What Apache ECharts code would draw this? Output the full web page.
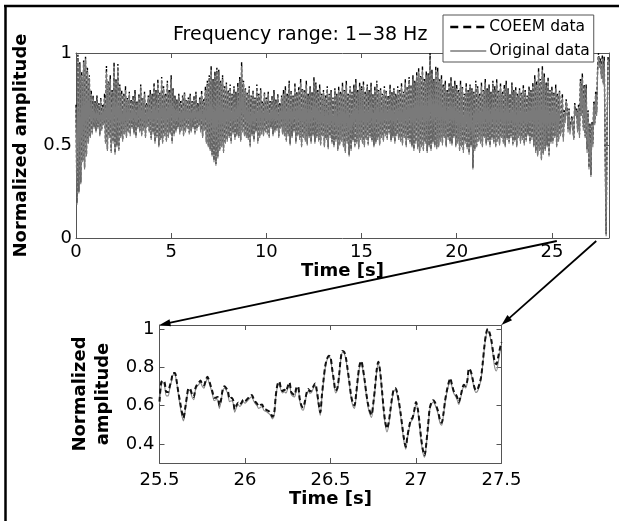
<!DOCTYPE html>
<html><head><meta charset="utf-8">
<script src="https://cdn.jsdelivr.net/npm/echarts@6/dist/echarts.min.js"></script>
<style>html,body{margin:0;padding:0;background:#fff}#c{width:619px;height:521px}</style>
</head><body><div id="c"></div>
<script>
// ---- Top panel: 0–28 s, one reading every 0.05 s (values in hundredths) ----
const topStart = 0, topStep = 0.05;
const topCoeem = [
72,19,99,25,95,30,90,42,96,38,98,45,92,52,88,55,80,57,77,60,
74,58,77,60,73,56,76,59,72,62,78,52,93,48,85,55,88,47,80,52,
95,46,86,50,94,48,83,55,80,53,78,57,82,55,76,58,79,56,75,60,
77,57,80,55,74,60,78,58,83,56,76,59,79,55,73,61,77,58,80,54,
78,57,84,52,80,55,86,50,79,54,87,52,82,56,78,53,85,55,80,57,
88,52,81,56,77,58,75,60,78,57,74,59,77,56,79,58,75,60,76,57,
78,58,74,60,77,57,79,59,73,61,76,58,80,55,75,59,82,52,85,50,
88,48,93,45,86,42,90,40,92,44,91,48,85,50,88,47,82,52,84,53,
80,55,83,52,78,57,82,54,79,56,84,55,87,53,95,58,85,56,81,55,
79,54,82,50,77,56,80,53,76,58,83,52,78,55,81,57,74,56,79,58,
76,57,79,55,74,60,77,56,80,58,75,59,78,55,73,60,77,57,80,56,
82,53,78,56,85,51,80,55,77,58,84,52,79,56,82,54,86,50,81,55,
80,53,85,51,78,55,82,52,79,56,87,52,84,55,80,53,83,51,78,56,
80,50,77,54,82,49,78,55,80,52,76,50,81,53,78,48,82,51,79,53,
84,50,80,47,85,52,78,45,82,48,79,53,83,50,86,52,80,49,84,54,
82,52,85,50,79,54,83,51,80,55,84,53,78,50,82,52,85,54,80,51,
81,55,78,53,82,56,80,54,77,57,83,53,79,55,81,52,78,56,82,54,
80,53,84,51,79,55,86,50,82,54,87,52,83,50,88,48,85,52,90,49,
92,47,88,50,93,48,86,52,90,47,89,50,100,48,91,52,86,50,93,49,
92,50,86,53,88,51,83,55,85,50,80,54,84,52,87,51,82,55,85,50,
83,52,80,48,85,50,82,47,78,52,84,49,80,46,83,50,81,38,79,48,
85,50,82,53,78,52,84,50,80,55,86,51,81,53,83,50,79,54,85,52,
82,50,86,53,80,51,84,55,79,52,83,50,85,54,81,52,78,55,84,51,
80,53,82,50,78,55,81,52,79,54,83,51,80,53,77,56,82,52,80,54,
84,50,88,47,85,45,92,48,86,43,93,46,89,48,84,50,87,45,80,52,
82,52,79,55,83,50,78,53,80,56,62,78,54,69,64,75,70,59,70,58,
62,66,60,54,73,67,70,59,72,56,86,67,89,60,83,55,83,48,69,38,
62,34,63,51,74,62,79,68,91,100,93,97,88,99,84,98,45,2,60,98,
95];
const topOrig = [
71,18,97,24,94,29,88,41,95,37,97,44,90,51,86,54,78,56,76,59,
73,57,75,59,72,55,75,58,71,61,76,51,90,47,84,54,86,46,79,51,
93,45,85,49,92,47,82,54,78,52,77,56,80,54,75,57,78,55,74,59,
76,56,78,54,73,59,77,57,81,55,75,58,78,54,72,60,76,57,78,53,
77,56,82,51,79,54,84,49,78,53,85,51,81,55,77,52,83,54,79,56,
86,51,80,55,76,57,74,59,77,56,73,58,76,55,78,57,74,59,75,56,
77,57,73,59,76,56,78,58,72,60,75,57,78,54,74,58,80,51,83,49,
86,47,91,44,85,41,88,39,90,43,90,47,84,49,86,46,81,51,83,52,
79,54,81,51,77,56,80,53,78,55,82,54,85,52,93,57,84,55,80,54,
78,53,80,49,76,55,79,52,75,57,81,51,77,54,80,56,73,55,78,57,
75,56,78,54,73,59,76,55,78,57,74,58,77,54,72,59,76,56,78,55,
80,52,77,55,83,50,79,54,76,57,82,51,78,55,80,53,84,49,80,54,
79,52,83,50,77,54,81,51,78,55,85,51,82,54,79,52,81,50,77,55,
79,49,76,53,80,48,77,54,79,51,75,49,80,52,77,47,80,50,78,52,
82,49,79,46,83,51,77,44,81,47,78,52,81,49,84,51,79,48,82,53,
80,51,83,49,78,53,81,50,79,54,82,52,77,49,80,51,83,53,79,50,
80,54,77,52,80,55,79,53,76,56,81,52,78,54,80,51,77,55,80,53,
79,52,82,50,78,54,84,49,81,53,85,51,82,49,86,47,84,51,88,48,
90,46,87,49,91,47,85,51,88,46,88,49,97,47,89,51,85,49,91,48,
90,49,85,52,86,50,82,54,83,49,79,53,82,51,85,50,81,54,83,49,
81,51,79,47,83,49,81,46,77,51,82,48,79,45,81,49,80,37,78,47,
83,49,81,52,77,51,82,49,79,54,84,50,80,52,81,49,78,53,83,51,
80,49,84,52,79,50,82,54,78,51,81,49,83,53,80,51,77,54,82,50,
79,52,80,49,77,54,80,51,78,53,81,50,79,52,76,55,80,51,79,53,
82,49,86,46,83,44,90,47,84,42,91,45,87,47,82,49,85,44,79,51,
80,51,78,54,81,49,77,52,79,55,61,76,52,68,62,74,69,57,69,56,
61,65,59,53,72,66,69,57,71,54,84,66,87,58,82,54,81,46,68,37,
61,33,62,49,73,61,78,66,89,98,92,95,86,97,83,96,43,1,58,97,
94];

// ---- Zoom panel: 25.5–27.5 s, one reading every 0.01 s ----
const zoomStart = 25.5, zoomStep = 0.01;
const zoomCoeem = [
.62,.72,.73,.72,.67,.67,.70,.735,.77,.77,
.73,.67,.62,.57,.535,.585,.645,.69,.685,.66,
.645,.69,.71,.72,.73,.71,.705,.73,.75,.73,
.70,.67,.64,.64,.645,.60,.63,.685,.70,.69,
.675,.635,.64,.63,.58,.60,.615,.605,.615,.63,
.622,.63,.64,.65,.655,.635,.62,.61,.597,.603,
.605,.585,.58,.575,.57,.56,.541,.556,.65,.71,
.725,.69,.675,.682,.675,.70,.72,.67,.66,.656,
.69,.70,.635,.60,.59,.62,.665,.686,.674,.68,
.70,.715,.678,.615,.565,.655,.74,.81,.845,.86,
.852,.79,.73,.678,.69,.755,.845,.885,.88,.85,
.79,.725,.655,.615,.60,.66,.745,.81,.832,.79,
.73,.66,.605,.57,.552,.61,.69,.785,.828,.78,
.69,.59,.515,.48,.51,.575,.64,.685,.69,.665,
.62,.56,.49,.425,.385,.44,.49,.525,.537,.575,
.618,.585,.515,.43,.37,.34,.40,.49,.585,.615,
.628,.618,.595,.567,.525,.51,.555,.625,.675,.715,
.742,.71,.677,.662,.645,.617,.645,.685,.708,.702,
.73,.793,.78,.745,.70,.68,.685,.71,.745,.82,
.91,.975,1.0,.98,.945,.885,.83,.815,.85,.894,
.93];
const zoomOrig = [
.61,.70,.72,.70,.65,.65,.69,.725,.76,.76,
.72,.66,.60,.55,.52,.57,.635,.68,.675,.645,
.63,.68,.70,.71,.72,.70,.69,.72,.74,.72,
.69,.655,.625,.63,.63,.585,.62,.675,.69,.68,
.66,.62,.625,.615,.565,.59,.605,.595,.605,.62,
.612,.62,.63,.64,.645,.625,.61,.60,.585,.59,
.595,.575,.57,.565,.558,.548,.53,.545,.64,.70,
.715,.68,.665,.672,.665,.69,.71,.66,.648,.645,
.68,.69,.625,.585,.575,.605,.655,.676,.664,.67,
.69,.705,.665,.60,.548,.645,.73,.80,.838,.852,
.845,.78,.72,.665,.68,.745,.838,.878,.872,.84,
.78,.712,.642,.60,.585,.65,.735,.80,.825,.78,
.72,.648,.59,.555,.538,.60,.68,.775,.82,.77,
.68,.575,.50,.462,.495,.565,.63,.675,.682,.655,
.61,.548,.475,.41,.372,.43,.478,.515,.527,.565,
.608,.575,.50,.415,.355,.33,.39,.478,.575,.605,
.618,.607,.583,.553,.51,.497,.545,.615,.665,.705,
.735,.70,.665,.65,.632,.605,.635,.675,.70,.692,
.72,.785,.772,.735,.69,.668,.675,.70,.735,.81,
.90,.965,.99,.97,.93,.865,.80,.78,.82,.875,
.915];

const topXTicks = [0, 5, 10, 15, 20, 25];
const topYTicks = [0, 0.5, 1];
const zoomXTicks = [25.5, 26, 26.5, 27, 27.5];
const zoomYTicks = [0.4, 0.6, 0.8, 1];
const seriesNames = ['COEEM data', 'Original data'];

function pairs(start, step, vals, scale) {
  return vals.map((v, i) => [+(start + i * step).toFixed(3), v * scale]);
}

const FONT = 'DejaVu Sans';
const AX = '#555';

function axisCommon(ticks, showLabel, margin) {
  return {
    axisLine: { show: true, onZero: false, lineStyle: { color: AX, width: 1 } },
    axisTick: { show: true, inside: true, length: 5, customValues: ticks, lineStyle: { color: AX } },
    axisLabel: { show: showLabel, customValues: ticks, color: '#000', fontSize: 18, fontFamily: FONT, margin: margin },
    splitLine: { show: false }
  };
}

const chart = echarts.init(document.getElementById('c'));
chart.setOption({
  animation: false,
  backgroundColor: '#fff',
  textStyle: { fontFamily: FONT },
  title: {
    text: 'Frequency range: 1\u221238 Hz', left: 173, top: 26, padding: 0,
    textStyle: { fontSize: 19, fontWeight: 'normal', color: '#000', fontFamily: FONT }
  },
  legend: {
    data: [
      { name: seriesNames[0], lineStyle: { color: '#000', width: 2.5, type: [8, 5] },
        itemStyle: { opacity: 0, borderWidth: 0 } },
      { name: seriesNames[1], lineStyle: { color: '#7a7a7a', width: 1.3, type: 'solid' },
        itemStyle: { opacity: 0, borderWidth: 0 } }
    ],
    orient: 'vertical', left: 443, top: 15, itemWidth: 36, itemHeight: 14, itemGap: 8,
    padding: [4, 4, 3, 6], borderColor: '#555', borderWidth: 1, backgroundColor: '#fff',
    textStyle: { fontSize: 15.5, color: '#000', fontFamily: FONT, padding: [0, 0, 0, -2] }, selectedMode: false
  },
  grid: [
    { left: 76, top: 53, width: 533, height: 185 },
    { left: 159.5, top: 325, width: 342, height: 138 }
  ],
  xAxis: [
    Object.assign({ gridIndex: 0, type: 'value', min: 0, max: 28, position: 'bottom',
      name: 'Time [s]', nameLocation: 'middle', nameGap: 21,
      nameTextStyle: { fontSize: 18, fontWeight: 'bold', color: '#000', fontFamily: FONT } },
      axisCommon(topXTicks, true, 5)),
    Object.assign({ gridIndex: 0, type: 'value', min: 0, max: 28, position: 'top' }, axisCommon(topXTicks, false, 5)),
    Object.assign({ gridIndex: 1, type: 'value', min: 25.5, max: 27.5, position: 'bottom',
      name: 'Time [s]', nameLocation: 'middle', nameGap: 26,
      nameTextStyle: { fontSize: 18, fontWeight: 'bold', color: '#000', fontFamily: FONT } },
      axisCommon(zoomXTicks, true, 8)),
    Object.assign({ gridIndex: 1, type: 'value', min: 25.5, max: 27.5, position: 'top' }, axisCommon(zoomXTicks, false, 5))
  ],
  yAxis: [
    Object.assign({ gridIndex: 0, type: 'value', min: 0, max: 1, position: 'left',
      name: 'Normalized amplitude', nameLocation: 'middle', nameGap: 46,
      nameTextStyle: { fontSize: 18, fontWeight: 'bold', color: '#000', fontFamily: FONT } },
      axisCommon(topYTicks, true, 4)),
    Object.assign({ gridIndex: 0, type: 'value', min: 0, max: 1, position: 'right' }, axisCommon(topYTicks, false, 4)),
    Object.assign({ gridIndex: 1, type: 'value', min: 0.3, max: 1.02, position: 'left',
      name: 'Normalized\namplitude', nameLocation: 'middle', nameGap: 42,
      nameTextStyle: { fontSize: 18, fontWeight: 'bold', color: '#000', fontFamily: FONT, lineHeight: 23 } },
      axisCommon(zoomYTicks, true, 5)),
    Object.assign({ gridIndex: 1, type: 'value', min: 0.3, max: 1.02, position: 'right' }, axisCommon(zoomYTicks, false, 5))
  ],
  series: [
    { name: seriesNames[0], type: 'line', xAxisIndex: 0, yAxisIndex: 0, symbol: 'none', showSymbol: false,
      data: pairs(topStart, topStep, topCoeem, 0.01), z: 2,
      lineStyle: { color: '#000', width: 1.4, type: [3, 2] } },
    { name: seriesNames[1], type: 'line', xAxisIndex: 0, yAxisIndex: 0, symbol: 'none', showSymbol: false,
      data: pairs(topStart, topStep, topOrig, 0.01), z: 3,
      lineStyle: { color: '#7a7a7a', width: 1.1 } },
    { name: seriesNames[1], type: 'line', xAxisIndex: 2, yAxisIndex: 2, symbol: 'none', showSymbol: false,
      data: pairs(zoomStart, zoomStep, zoomOrig, 1), z: 2, smooth: 0.3,
      lineStyle: { color: '#8a8a8a', width: 1.1 } },
    { name: seriesNames[0], type: 'line', xAxisIndex: 2, yAxisIndex: 2, symbol: 'none', showSymbol: false,
      data: pairs(zoomStart, zoomStep, zoomCoeem, 1), z: 3, smooth: 0.3,
      lineStyle: { color: '#111', width: 2, type: [5, 3] } }
  ]
});

function arrow(s, e) {
  const dx = e[0] - s[0], dy = e[1] - s[1], L = Math.hypot(dx, dy), ux = dx / L, uy = dy / L;
  const hl = 11, hw = 3.5;
  const bx = e[0] - ux * hl, by = e[1] - uy * hl;
  return [
    { type: 'line', z: 100, shape: { x1: s[0], y1: s[1], x2: bx + ux * 1, y2: by + uy * 1 }, style: { stroke: '#000', lineWidth: 1.8 } },
    { type: 'polygon', z: 100, shape: { points: [[e[0], e[1]], [bx - uy * hw, by + ux * hw], [bx + uy * hw, by - ux * hw]] }, style: { fill: '#000' } }
  ];
}
const a1s = chart.convertToPixel({ gridIndex: 0 }, [25.26, 0]);
const a2s = chart.convertToPixel({ gridIndex: 0 }, [27.33, 0]);
const a1e = chart.convertToPixel({ gridIndex: 1 }, [25.5, 1.02]);
const a2e = chart.convertToPixel({ gridIndex: 1 }, [27.5, 1.02]);
a1s[1] += 3; a2s[1] += 3;
const elements = [
  { type: 'line', z: 100, shape: { x1: 4, y1: 6, x2: 619, y2: 6 }, style: { stroke: '#000', lineWidth: 2.5 } },
  { type: 'line', z: 100, shape: { x1: 5.5, y1: 5, x2: 5.5, y2: 521 }, style: { stroke: '#000', lineWidth: 2.5 } }
].concat(arrow(a1s, a1e), arrow(a2s, a2e));
chart.setOption({ graphic: { elements: elements } });
</script>
</body></html>
